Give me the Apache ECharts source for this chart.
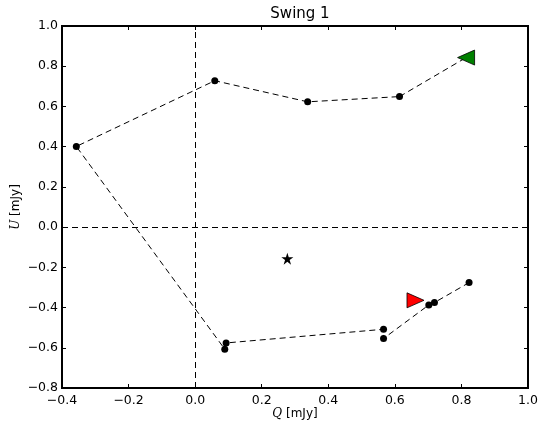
<!DOCTYPE html>
<html>
<head>
<meta charset="utf-8">
<script src="https://cdn.jsdelivr.net/npm/echarts@6/dist/echarts.min.js"></script>
<style>
html,body{margin:0;padding:0;background:#fff;}
#chart{width:540px;height:425px;}
</style>
</head>
<body>
<div id="chart"></div>
<script>
// Path of the polarization angle swing (Q, U in mJy)
var qPath = [0.823, 0.719, 0.702, 0.566, 0.566, 0.093, 0.089, -0.357, 0.059, 0.338, 0.614];
var uPath = [-0.276, -0.375, -0.387, -0.554, -0.508, -0.576, -0.607, 0.401, 0.728, 0.623, 0.649];
// Start / end markers and the star
var startPoint = [0.662, -0.364];
var endPoint = [0.814, 0.843];
var starPoint = [0.277, -0.157];
// Axis ranges / ticks
var xTicks = [-0.4, -0.2, 0.0, 0.2, 0.4, 0.6, 0.8, 1.0];
var yTicks = [-0.8, -0.6, -0.4, -0.2, 0.0, 0.2, 0.4, 0.6, 0.8, 1.0];
var titleText = 'Swing 1';

var pathData = qPath.map(function (q, i) { return [q, uPath[i]]; });
var font = 'DejaVu Sans';
function fmt(v) {
  var s = Math.abs(v) < 1e-9 ? '0.0' : v.toFixed(1);
  return s.replace('-', '\u2212');
}
function mkX(pos, showLabels) {
  return {
    type: 'value', position: pos,
    min: xTicks[0], max: xTicks[xTicks.length - 1], interval: 0.2,
    axisLine: { show: false, onZero: false },
    axisTick: { show: true, inside: true, length: 4, lineStyle: { color: '#000', width: 1 } },
    axisLabel: { show: showLabels, formatter: fmt, color: '#000', fontFamily: font, fontSize: 12.5, margin: 6 },
    splitLine: { show: false },
    name: showLabels ? '{i|Q} [mJy]' : '',
    nameLocation: 'middle', nameGap: 20, nameMoveOverlap: false,
    nameTextStyle: { color: '#000', fontFamily: font, fontSize: 12,
      rich: { i: { fontStyle: 'italic', fontFamily: 'DejaVu Serif', fontSize: 12, color: '#000' } } }
  };
}
function mkY(pos, showLabels) {
  return {
    type: 'value', position: pos,
    min: yTicks[0], max: yTicks[yTicks.length - 1], interval: 0.2,
    axisLine: { show: false, onZero: false },
    axisTick: { show: true, inside: true, length: 4, lineStyle: { color: '#000', width: 1 } },
    axisLabel: { show: showLabels, formatter: fmt, color: '#000', fontFamily: font, fontSize: 12.5, margin: 4 },
    splitLine: { show: false },
    name: showLabels ? '{i|U} [mJy]' : '',
    nameLocation: 'middle', nameGap: 40, nameRotate: 90, nameMoveOverlap: false,
    nameTextStyle: { color: '#000', fontFamily: font, fontSize: 12,
      rich: { i: { fontStyle: 'italic', fontFamily: 'DejaVu Serif', fontSize: 12, color: '#000' } } }
  };
}

var chart = echarts.init(document.getElementById('chart'), null, { renderer: 'canvas' });
chart.setOption({
  backgroundColor: '#fff',
  animation: false,
  title: {
    text: titleText, left: 295, top: 2, textAlign: 'center',
    textStyle: { fontFamily: font, fontSize: 15, fontWeight: 'normal', color: '#000' }
  },
  grid: { left: 62, right: 12, top: 26, bottom: 37, show: true, borderColor: '#000', borderWidth: 2,
          backgroundColor: 'transparent', outerBoundsMode: 'none', containLabel: false },
  xAxis: [mkX('bottom', true), mkX('top', false)],
  yAxis: [mkY('left', true), mkY('right', false)],
  series: [
    {
      type: 'line', data: pathData, xAxisIndex: 0, yAxisIndex: 0,
      symbol: 'circle', symbolSize: 7, showSymbol: true,
      itemStyle: { color: '#000', opacity: 1 },
      lineStyle: { color: '#000', width: 1, type: [6, 4] },
      z: 3,
      markLine: {
        silent: true, symbol: 'none', label: { show: false },
        lineStyle: { color: '#000', width: 1, type: [6, 4] },
        data: [{ xAxis: 0 }, { yAxis: 0 }]
      }
    },
    {
      type: 'line', data: [[qPath[qPath.length - 1], uPath[uPath.length - 1]], endPoint],
      symbol: 'none', lineStyle: { color: '#000', width: 1, type: [6, 4] }, z: 2
    },
    {
      type: 'scatter', data: [startPoint], symbol: 'triangle', symbolSize: [15, 17], symbolRotate: -90,
      itemStyle: { color: '#ff0000', borderColor: '#000', borderWidth: 0.8, opacity: 1 }, z: 4
    },
    {
      type: 'scatter', data: [endPoint], symbol: 'triangle', symbolSize: [15, 17], symbolRotate: 90,
      itemStyle: { color: '#008000', borderColor: '#000', borderWidth: 0.8, opacity: 1 }, z: 4
    },
    {
      type: 'scatter', data: [starPoint],
      symbol: 'path://M0,-10 L2.245,-3.09 L9.51,-3.09 L3.633,1.18 L5.878,8.09 L0,3.82 L-5.878,8.09 L-3.633,1.18 L-9.51,-3.09 L-2.245,-3.09 Z',
      symbolSize: 12, itemStyle: { color: '#000', opacity: 1 }, z: 4
    }
  ]
});
</script>
</body>
</html>
